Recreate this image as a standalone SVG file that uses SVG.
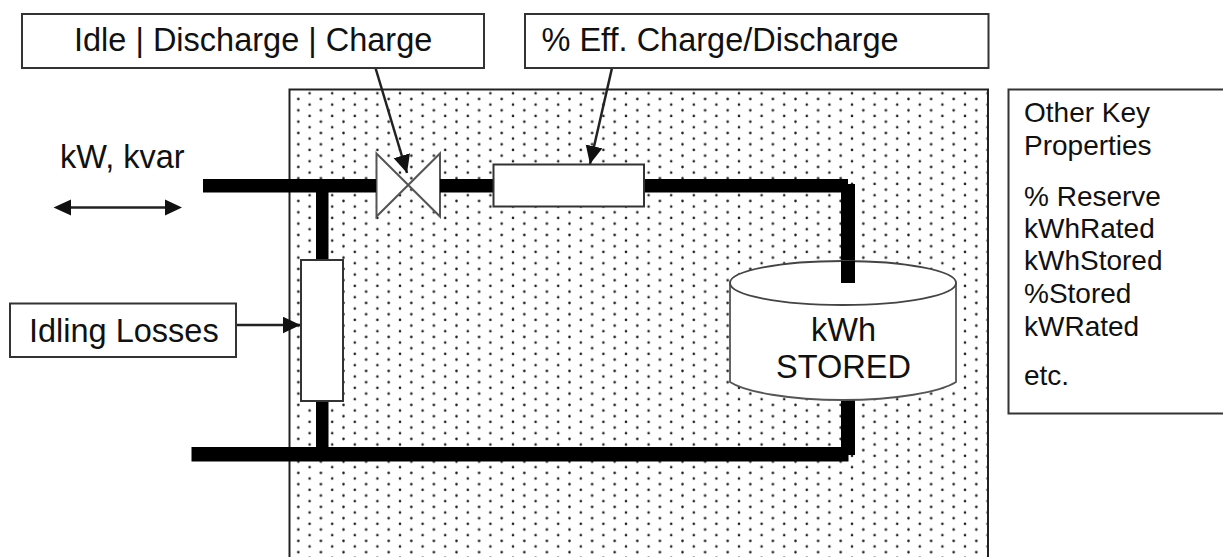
<svg xmlns="http://www.w3.org/2000/svg" width="1223" height="557" viewBox="0 0 1223 557">
<style>
.box{fill:#fff;stroke:#333;stroke-width:2}
.thin{fill:none;stroke:#222;stroke-width:2.5}
.w{fill:#000;stroke:none}
text{font-family:"Liberation Sans",Arial,sans-serif;font-size:32.5px;fill:#111}
.s{font-size:28px}
</style>
<defs>
<pattern id="dots" width="22.6" height="11.33" patternUnits="userSpaceOnUse" x="287" y="87.7">
<circle cx="11.3" cy="11.3" r="1.3" fill="#222"/><circle cx="11.3" cy="0" r="1.3" fill="#222"/>
<circle cx="22.6" cy="5.6" r="1.3" fill="#222"/><circle cx="0" cy="5.6" r="1.3" fill="#222"/>
</pattern>
<marker id="ah" markerUnits="userSpaceOnUse" markerWidth="19" markerHeight="18" refX="18" refY="8.500" orient="auto"><path d="M0 0L18 8.500L0 17Z" fill="#111"/></marker>
</defs>
<g id="background">
<rect x="289.500" y="89.500" width="698.500" height="480" fill="url(#dots)" stroke="#222" stroke-width="2"/>
</g>
<g id="valve"><path d="M376.500 153.500L440 216.500V153.500L376.500 216.500Z" fill="#fff" stroke="#555" stroke-width="2"/></g>
<g id="connectors">
<rect class="w" x="203" y="179" width="173" height="13.500"/>
<rect class="w" x="440" y="179" width="55" height="13.500"/>
<rect class="w" x="643" y="179" width="205" height="13.500"/>
<rect class="w" x="841" y="184" width="14" height="100"/>
<rect class="w" x="316" y="185" width="12.500" height="270"/>
<rect class="w" x="191.500" y="447" width="657" height="14.500"/>
<rect class="w" x="841" y="398" width="14" height="57"/>
<path class="thin" d="M375.500 68L407 173" marker-end="url(#ah)"/>
<path class="thin" d="M612 68L590 164" marker-end="url(#ah)"/>
<path class="thin" d="M236 325L300.500 325" marker-end="url(#ah)"/>
<path class="thin" d="M60 207.500H175"/>
<path d="M53.500 207.500L71 199.500V215.500Z" fill="#111"/><path d="M182 207.500L165 199.500V215.500Z" fill="#111"/>
</g>
<g id="eff-block"><rect class="box" x="493.500" y="164.500" width="150.500" height="42"/></g>
<g id="idle-block"><rect class="box" x="301" y="260" width="42" height="141"/></g>
<g id="tank">
<path d="M730 283V382C745 392 790 400 843 400S940 392 956 382V283" fill="#fff" stroke="#555" stroke-width="1.800"/>
<ellipse cx="843" cy="283" rx="113" ry="22" fill="#fff" stroke="#444" stroke-width="1.800"/>
<rect class="w" x="841" y="261" width="14" height="22"/>
<text x="843.500" y="341" text-anchor="middle">kWh</text>
<text x="843.500" y="378" text-anchor="middle">STORED</text>
</g>
<g id="mode-box"><rect class="box" x="22" y="14" width="462" height="54"/><text x="74" y="51">Idle | Discharge | Charge</text></g>
<g id="eff-box"><rect class="box" x="525" y="14" width="463.500" height="54"/><text x="541.500" y="51">% Eff. Charge/Discharge</text></g>
<g id="idling-box"><rect class="box" x="10" y="303.500" width="226" height="53.500"/><text x="29" y="342">Idling Losses</text></g>
<g id="flow-label"><text x="60" y="168">kW, kvar</text></g>
<g id="key-box"><rect class="box" x="1008.500" y="89.500" width="220" height="324"/>
<text class="s" x="1024" y="122">Other Key</text><text class="s" x="1024" y="155">Properties</text>
<text class="s" x="1024" y="206">% Reserve</text><text class="s" x="1024" y="238">kWhRated</text><text class="s" x="1024" y="270">kWhStored</text><text class="s" x="1024" y="303">%Stored</text><text class="s" x="1024" y="336">kWRated</text>
<text class="s" x="1024" y="385">etc.</text></g>
</svg>
